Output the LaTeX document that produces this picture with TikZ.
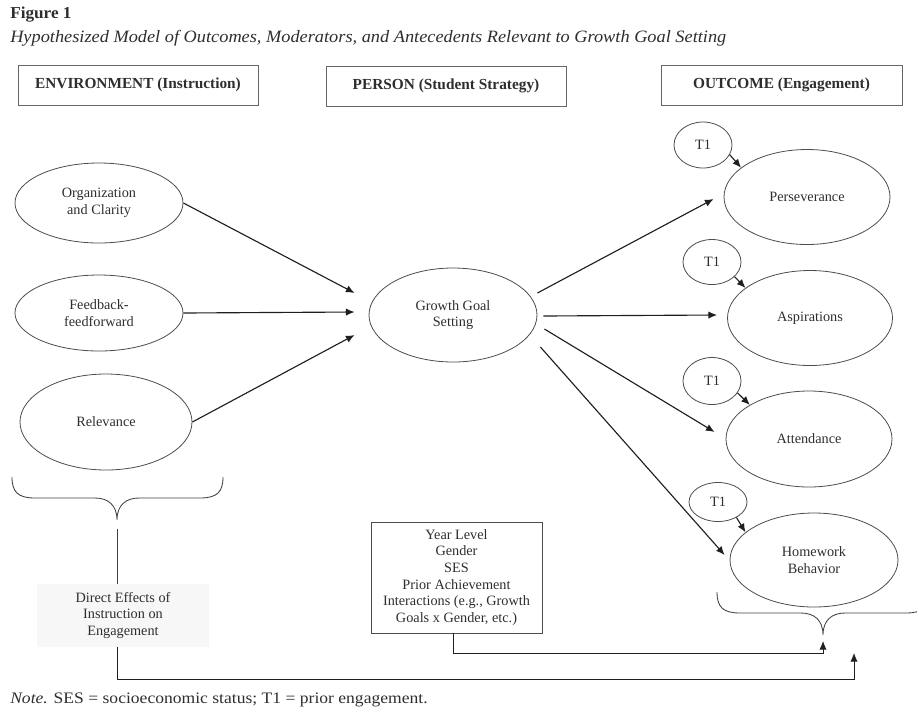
\documentclass[tikz,border=0pt]{standalone}
\usepackage{fontspec}
\setmainfont{Liberation Serif}
\usetikzlibrary{shapes.geometric,arrows.meta,calc}
\begin{document}
\begin{tikzpicture}[x=0.75pt,y=-0.75pt,
  every node/.style={text=black!82},
  hd/.style={draw=black!60, line width=0.7pt, minimum width=180pt, minimum height=30pt, inner sep=0pt, font=\bfseries\fontsize{11.5}{13}\selectfont},
  ov/.style={ellipse, draw=black!70, line width=0.6pt, inner sep=0pt, align=center, font=\fontsize{10.7}{12.5}\selectfont},
  tone/.style={ov, minimum width=43.5pt},
  arr/.style={draw=black!88, line width=0.85pt, -{Latex[length=6.5pt,width=5.5pt]}},
  ln/.style={draw=black!75, line width=0.65pt},
  txt/.style={align=center, inner sep=0pt, font=\fontsize{10.7}{12.5}\selectfont}
]
\useasboundingbox (0,0) rectangle (917,719);

% titles
\node[anchor=west, inner sep=0pt, font=\bfseries\fontsize{12.5}{14}\selectfont] (fig) at (10,15) {\resizebox{46pt}{\height}{Figure 1}};
\node[anchor=west, inner sep=0pt, font=\itshape\fontsize{13}{15}\selectfont] (sub) at (10,38) {\resizebox{537pt}{\height}{Hypothesized Model of Outcomes, Moderators, and Antecedents Relevant to Growth Goal Setting}};

% headings
\node[hd] (env) at (138,85) {ENVIRONMENT (Instruction)};
\node[hd] (per) at (446,86) {PERSON (Student Strategy)};
\node[hd, minimum width=180.75pt] (out) at (781.5,85) {OUTCOME (Engagement)};

% environment ellipses
\node[ov, minimum width=126pt, minimum height=60pt] (org) at (99,203) {Organization\\and Clarity};
\node[ov, minimum width=126pt, minimum height=57pt] (fb) at (99,313) {Feedback-\\feedforward};
\node[ov, minimum width=129pt, minimum height=72pt] (rel) at (106,422) {Relevance};

% growth
\node[ov, minimum width=126pt, minimum height=70.5pt] (g) at (453,315) {Growth Goal\\Setting};

% outcomes
\node[ov, minimum width=124.5pt, minimum height=71.25pt] (pers) at (807,197) {Perseverance};
\node[ov, minimum width=123.75pt, minimum height=71.25pt] (asp) at (810,318) {Aspirations};
\node[ov, minimum width=124.5pt, minimum height=72pt] (att) at (809,439) {Attendance};
\node[ov, minimum width=126pt, minimum height=70.5pt] (hw) at (814,560) {Homework\\Behavior};

% T1 nodes
\node[tone, minimum height=34.5pt] (ta) at (703,145) {T1};
\node[tone, minimum height=33.75pt] (tb) at (712,262) {T1};
\node[tone, minimum height=35.25pt] (tc) at (712,381) {T1};
\node[tone, minimum height=29.25pt] (td) at (718,502) {T1};

% moderators box
\node[draw=black!70, line width=0.7pt, minimum width=128.25pt, minimum height=83.25pt, txt] (mod) at (456.5,577.5)
  {Year Level\\Gender\\SES\\Prior Achievement\\Interactions (e.g., Growth\\Goals x Gender, etc.)};

% direct effects box
\node[fill=black!3, minimum width=129pt, minimum height=47.25pt, txt] (direct) at (123,615.5)
  {Direct Effects of\\Instruction on\\Engagement};

% note
\node[anchor=west, inner sep=0pt, font=\fontsize{12}{14}\selectfont] (note) at (10,700) {\resizebox{313pt}{\height}{\textit{Note.} SES = socioeconomic status; T1 = prior engagement.}};

% arrows into growth
\draw[arr] (org.east) -- ($(g.west)+(-14,-22)$);
\draw[arr] (fb.east) -- ($(g.west)+(-14,-3)$);
\draw[arr] (rel.east) -- ($(g.west)+(-14,20)$);

% arrows out of growth
\draw[arr] ($(g.east)+(0,-22)$) -- ($(pers.west)+(-10,2)$);
\draw[arr] ($(g.east)+(6,1)$) -- ($(asp.west)+(-10,-3)$);
\draw[arr] ($(g.east)+(7,14)$) -- ($(att.west)+(-11,-7)$);
\draw[arr] ($(g.east)+(3,32)$) -- ($(hw.west)+(-5,-5)$);

% T1 arrows
\draw[arr] (ta.-20) -- (pers.156);
\draw[arr] (tb.-33) -- (asp.155);
\draw[arr] (tc.-25) -- (att.150);
\draw[arr] (td.-40) -- (hw.158);

% left brace
\draw[ln] (12,477) .. controls (12,492) and (18,498) .. (35,498) -- (95,498)
  .. controls (108,498) and (117,505) .. (117,520)
  .. controls (117,505) and (126,498) .. (139,498) -- (200,498)
  .. controls (217,498) and (223,492) .. (223,477);
% right brace
\draw[ln] (717,592) .. controls (717,607) and (723,613) .. (740,613) -- (801,613)
  .. controls (814,613) and (823,620) .. (823,635)
  .. controls (823,620) and (832,613) .. (845,613) -- (906,613)
  .. controls (923,613) and (929,607) .. (929,592);

\coordinate (lbt) at (117,529);
\coordinate (rbt) at (823,635);

\draw[ln] (lbt) -- (lbt |- direct.north);
\draw[arr, line width=0.7pt] (lbt |- direct.south) -- ++(0,32) -| ($(rbt)+(31,18)$);
\draw[arr, line width=0.7pt] ($(mod.south)+(-3,0)$) -- ++(0,20) -| ($(rbt)+(0,6)$);
\end{tikzpicture}
\end{document}
